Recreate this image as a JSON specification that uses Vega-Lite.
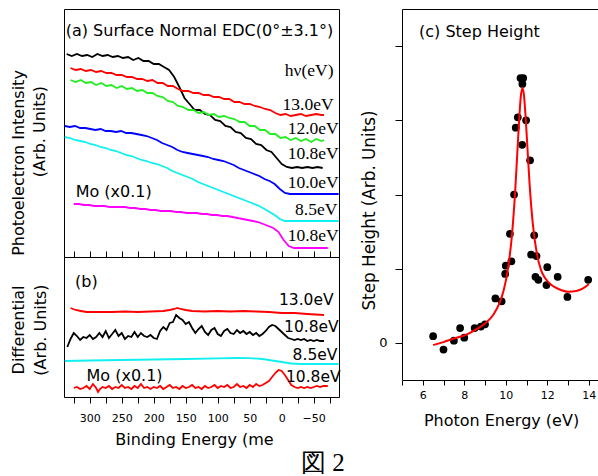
{
"$schema": "https://vega.github.io/schema/vega-lite/v6.json",
"padding": {"left": 10, "top": 8, "right": 0, "bottom": 0},
"background": "white",
"spacing": 15,
"resolve": {"scale": {"color": "independent"}},
"config": {
  "view": {"stroke": "black", "strokeWidth": 1},
  "axis": {"labelFont": "DejaVu Sans", "titleFont": "DejaVu Sans", "titleFontWeight": "normal", "labelColor": "black", "titleColor": "black", "tickColor": "black", "domainColor": "black", "grid": false},
  "text": {"font": "DejaVu Sans", "color": "black"}
},
"datasets": {
  "a": [
    {"s":"k","E":336,"v":203},{"s":"k","E":328,"v":201},{"s":"k","E":320,"v":203},{"s":"k","E":312,"v":201},{"s":"k","E":304,"v":202},{"s":"k","E":296,"v":200},{"s":"k","E":288,"v":203},{"s":"k","E":280,"v":201},{"s":"k","E":272,"v":202},{"s":"k","E":264,"v":200},{"s":"k","E":256,"v":201},{"s":"k","E":248,"v":199},{"s":"k","E":240,"v":200},{"s":"k","E":232,"v":197},{"s":"k","E":224,"v":199},{"s":"k","E":216,"v":196},{"s":"k","E":208,"v":196},{"s":"k","E":200,"v":193},{"s":"k","E":192,"v":193},{"s":"k","E":184,"v":190},{"s":"k","E":176,"v":187},{"s":"k","E":168,"v":180},{"s":"k","E":160,"v":170},{"s":"k","E":152,"v":159},{"s":"k","E":144,"v":153},{"s":"k","E":136,"v":147},{"s":"k","E":128,"v":147},{"s":"k","E":120,"v":143},{"s":"k","E":112,"v":142},{"s":"k","E":104,"v":137},{"s":"k","E":96,"v":136},{"s":"k","E":88,"v":131},{"s":"k","E":80,"v":130},{"s":"k","E":72,"v":125},{"s":"k","E":64,"v":124},{"s":"k","E":56,"v":119},{"s":"k","E":48,"v":118},{"s":"k","E":40,"v":113},{"s":"k","E":32,"v":112},{"s":"k","E":24,"v":107},{"s":"k","E":16,"v":105},{"s":"k","E":8,"v":99},{"s":"k","E":0,"v":93},{"s":"k","E":-8,"v":90},{"s":"k","E":-16,"v":89},{"s":"k","E":-24,"v":90},{"s":"k","E":-32,"v":89},{"s":"k","E":-40,"v":90},{"s":"k","E":-48,"v":89},{"s":"k","E":-56,"v":90},{"s":"k","E":-64,"v":89},
    {"s":"r","E":330,"v":189},{"s":"r","E":322,"v":187},{"s":"r","E":314,"v":188},{"s":"r","E":306,"v":186},{"s":"r","E":298,"v":187},{"s":"r","E":290,"v":185},{"s":"r","E":282,"v":186},{"s":"r","E":274,"v":184},{"s":"r","E":266,"v":184},{"s":"r","E":258,"v":182},{"s":"r","E":250,"v":182},{"s":"r","E":242,"v":180},{"s":"r","E":234,"v":180},{"s":"r","E":226,"v":178},{"s":"r","E":218,"v":178},{"s":"r","E":210,"v":176},{"s":"r","E":202,"v":177},{"s":"r","E":194,"v":174},{"s":"r","E":186,"v":174},{"s":"r","E":178,"v":171},{"s":"r","E":170,"v":171},{"s":"r","E":162,"v":168},{"s":"r","E":154,"v":166},{"s":"r","E":146,"v":166},{"s":"r","E":138,"v":164},{"s":"r","E":130,"v":164},{"s":"r","E":122,"v":162},{"s":"r","E":114,"v":162},{"s":"r","E":106,"v":160},{"s":"r","E":98,"v":160},{"s":"r","E":90,"v":158},{"s":"r","E":82,"v":158},{"s":"r","E":74,"v":155},{"s":"r","E":66,"v":155},{"s":"r","E":58,"v":153},{"s":"r","E":50,"v":153},{"s":"r","E":42,"v":151},{"s":"r","E":34,"v":150},{"s":"r","E":26,"v":148},{"s":"r","E":18,"v":147},{"s":"r","E":10,"v":144},{"s":"r","E":2,"v":142},{"s":"r","E":-6,"v":143},{"s":"r","E":-14,"v":141},{"s":"r","E":-22,"v":142},{"s":"r","E":-30,"v":143},{"s":"r","E":-38,"v":141},{"s":"r","E":-46,"v":142},{"s":"r","E":-54,"v":143},{"s":"r","E":-62,"v":142},{"s":"r","E":-66,"v":142},
    {"s":"g","E":330,"v":177},{"s":"g","E":322,"v":175},{"s":"g","E":314,"v":177},{"s":"g","E":306,"v":174},{"s":"g","E":298,"v":175},{"s":"g","E":290,"v":172},{"s":"g","E":282,"v":174},{"s":"g","E":274,"v":171},{"s":"g","E":266,"v":172},{"s":"g","E":258,"v":169},{"s":"g","E":250,"v":171},{"s":"g","E":242,"v":168},{"s":"g","E":234,"v":169},{"s":"g","E":226,"v":166},{"s":"g","E":218,"v":167},{"s":"g","E":210,"v":164},{"s":"g","E":202,"v":164},{"s":"g","E":194,"v":161},{"s":"g","E":186,"v":160},{"s":"g","E":178,"v":156},{"s":"g","E":170,"v":155},{"s":"g","E":162,"v":151},{"s":"g","E":154,"v":150},{"s":"g","E":146,"v":147},{"s":"g","E":138,"v":147},{"s":"g","E":130,"v":144},{"s":"g","E":122,"v":145},{"s":"g","E":114,"v":142},{"s":"g","E":106,"v":143},{"s":"g","E":98,"v":140},{"s":"g","E":90,"v":141},{"s":"g","E":82,"v":139},{"s":"g","E":74,"v":138},{"s":"g","E":66,"v":135},{"s":"g","E":58,"v":135},{"s":"g","E":50,"v":131},{"s":"g","E":42,"v":131},{"s":"g","E":34,"v":127},{"s":"g","E":26,"v":127},{"s":"g","E":18,"v":123},{"s":"g","E":10,"v":123},{"s":"g","E":2,"v":119},{"s":"g","E":-6,"v":120},{"s":"g","E":-14,"v":117},{"s":"g","E":-22,"v":119},{"s":"g","E":-30,"v":116},{"s":"g","E":-38,"v":118},{"s":"g","E":-46,"v":115},{"s":"g","E":-54,"v":118},{"s":"g","E":-62,"v":116},{"s":"g","E":-66,"v":117},
    {"s":"b","E":339,"v":131},{"s":"b","E":331,"v":130},{"s":"b","E":323,"v":131},{"s":"b","E":315,"v":129},{"s":"b","E":307,"v":129},{"s":"b","E":299,"v":128},{"s":"b","E":291,"v":127},{"s":"b","E":283,"v":128},{"s":"b","E":275,"v":126},{"s":"b","E":267,"v":126},{"s":"b","E":259,"v":125},{"s":"b","E":251,"v":126},{"s":"b","E":243,"v":124},{"s":"b","E":235,"v":124},{"s":"b","E":227,"v":123},{"s":"b","E":219,"v":122},{"s":"b","E":211,"v":121},{"s":"b","E":203,"v":119},{"s":"b","E":195,"v":117},{"s":"b","E":187,"v":114},{"s":"b","E":179,"v":112},{"s":"b","E":171,"v":110},{"s":"b","E":163,"v":107},{"s":"b","E":155,"v":105},{"s":"b","E":147,"v":104},{"s":"b","E":139,"v":103},{"s":"b","E":131,"v":102},{"s":"b","E":123,"v":101},{"s":"b","E":115,"v":100},{"s":"b","E":107,"v":98},{"s":"b","E":99,"v":97},{"s":"b","E":91,"v":96},{"s":"b","E":83,"v":94},{"s":"b","E":75,"v":92},{"s":"b","E":67,"v":89},{"s":"b","E":59,"v":87},{"s":"b","E":51,"v":85},{"s":"b","E":43,"v":83},{"s":"b","E":35,"v":81},{"s":"b","E":27,"v":78},{"s":"b","E":19,"v":76},{"s":"b","E":11,"v":73},{"s":"b","E":3,"v":68},{"s":"b","E":-5,"v":64},{"s":"b","E":-13,"v":63},{"s":"b","E":-29,"v":63},{"s":"b","E":-45,"v":63},{"s":"b","E":-61,"v":63},{"s":"b","E":-77,"v":63},{"s":"b","E":-89,"v":63},
    {"s":"c","E":339,"v":120},{"s":"c","E":331,"v":119},{"s":"c","E":323,"v":117},{"s":"c","E":315,"v":116},{"s":"c","E":307,"v":115},{"s":"c","E":299,"v":113},{"s":"c","E":291,"v":112},{"s":"c","E":283,"v":110},{"s":"c","E":275,"v":109},{"s":"c","E":267,"v":107},{"s":"c","E":259,"v":106},{"s":"c","E":251,"v":104},{"s":"c","E":243,"v":102},{"s":"c","E":235,"v":101},{"s":"c","E":227,"v":99},{"s":"c","E":219,"v":97},{"s":"c","E":211,"v":96},{"s":"c","E":203,"v":94},{"s":"c","E":195,"v":93},{"s":"c","E":187,"v":91},{"s":"c","E":179,"v":89},{"s":"c","E":171,"v":86},{"s":"c","E":163,"v":84},{"s":"c","E":155,"v":82},{"s":"c","E":147,"v":80},{"s":"c","E":139,"v":78},{"s":"c","E":131,"v":75},{"s":"c","E":123,"v":73},{"s":"c","E":115,"v":71},{"s":"c","E":107,"v":69},{"s":"c","E":99,"v":67},{"s":"c","E":91,"v":65},{"s":"c","E":83,"v":63},{"s":"c","E":75,"v":61},{"s":"c","E":67,"v":59},{"s":"c","E":59,"v":57},{"s":"c","E":51,"v":55},{"s":"c","E":43,"v":53},{"s":"c","E":35,"v":51},{"s":"c","E":27,"v":48},{"s":"c","E":19,"v":45},{"s":"c","E":11,"v":42},{"s":"c","E":3,"v":38},{"s":"c","E":-5,"v":36},{"s":"c","E":-13,"v":36},{"s":"c","E":-40,"v":36},{"s":"c","E":-70,"v":36},{"s":"c","E":-89,"v":36},
    {"s":"m","E":325,"v":53},{"s":"m","E":317,"v":53},{"s":"m","E":309,"v":52},{"s":"m","E":301,"v":52},{"s":"m","E":293,"v":51},{"s":"m","E":285,"v":51},{"s":"m","E":277,"v":51},{"s":"m","E":269,"v":50},{"s":"m","E":261,"v":50},{"s":"m","E":253,"v":50},{"s":"m","E":245,"v":50},{"s":"m","E":237,"v":49},{"s":"m","E":229,"v":49},{"s":"m","E":221,"v":48},{"s":"m","E":213,"v":48},{"s":"m","E":205,"v":47},{"s":"m","E":197,"v":47},{"s":"m","E":189,"v":46},{"s":"m","E":181,"v":46},{"s":"m","E":173,"v":46},{"s":"m","E":165,"v":45},{"s":"m","E":157,"v":45},{"s":"m","E":149,"v":44},{"s":"m","E":141,"v":44},{"s":"m","E":133,"v":44},{"s":"m","E":125,"v":43},{"s":"m","E":117,"v":43},{"s":"m","E":109,"v":42},{"s":"m","E":101,"v":42},{"s":"m","E":93,"v":41},{"s":"m","E":85,"v":41},{"s":"m","E":77,"v":40},{"s":"m","E":69,"v":39},{"s":"m","E":61,"v":38},{"s":"m","E":53,"v":37},{"s":"m","E":45,"v":36},{"s":"m","E":37,"v":35},{"s":"m","E":29,"v":33},{"s":"m","E":21,"v":31},{"s":"m","E":13,"v":29},{"s":"m","E":5,"v":25},{"s":"m","E":-3,"v":17},{"s":"m","E":-11,"v":11},{"s":"m","E":-19,"v":9},{"s":"m","E":-35,"v":9},{"s":"m","E":-55,"v":9},{"s":"m","E":-72,"v":9}
  ],
  "b": [
    {"s":"r","E":330,"v":89},{"s":"r","E":322,"v":87},{"s":"r","E":314,"v":86},{"s":"r","E":305,"v":85},{"s":"r","E":285,"v":85},{"s":"r","E":265,"v":85},{"s":"r","E":245,"v":85.5},{"s":"r","E":225,"v":85},{"s":"r","E":205,"v":85.5},{"s":"r","E":185,"v":86},{"s":"r","E":175,"v":87},{"s":"r","E":168,"v":88},{"s":"r","E":163,"v":89},{"s":"r","E":158,"v":88},{"s":"r","E":150,"v":87},{"s":"r","E":140,"v":86},{"s":"r","E":120,"v":85.5},{"s":"r","E":100,"v":86},{"s":"r","E":80,"v":85.5},{"s":"r","E":60,"v":86},{"s":"r","E":40,"v":85.5},{"s":"r","E":20,"v":85},{"s":"r","E":0,"v":84},{"s":"r","E":-20,"v":84},{"s":"r","E":-40,"v":83},{"s":"r","E":-66,"v":82},
    {"s":"k","E":335,"v":50},{"s":"k","E":330,"v":58},{"s":"k","E":325,"v":64},{"s":"k","E":320,"v":61},{"s":"k","E":315,"v":57},{"s":"k","E":310,"v":60},{"s":"k","E":305,"v":59},{"s":"k","E":300,"v":62},{"s":"k","E":295,"v":58},{"s":"k","E":290,"v":60},{"s":"k","E":285,"v":64},{"s":"k","E":280,"v":60},{"s":"k","E":275,"v":66},{"s":"k","E":270,"v":59},{"s":"k","E":265,"v":63},{"s":"k","E":260,"v":67},{"s":"k","E":255,"v":61},{"s":"k","E":250,"v":64},{"s":"k","E":245,"v":58},{"s":"k","E":240,"v":61},{"s":"k","E":235,"v":60},{"s":"k","E":230,"v":65},{"s":"k","E":225,"v":60},{"s":"k","E":220,"v":64},{"s":"k","E":215,"v":61},{"s":"k","E":210,"v":60},{"s":"k","E":205,"v":62},{"s":"k","E":200,"v":59},{"s":"k","E":195,"v":58},{"s":"k","E":190,"v":66},{"s":"k","E":185,"v":70},{"s":"k","E":180,"v":67},{"s":"k","E":175,"v":74},{"s":"k","E":170,"v":75},{"s":"k","E":165,"v":82},{"s":"k","E":160,"v":79},{"s":"k","E":155,"v":77},{"s":"k","E":150,"v":73},{"s":"k","E":145,"v":75},{"s":"k","E":140,"v":69},{"s":"k","E":135,"v":64},{"s":"k","E":130,"v":68},{"s":"k","E":125,"v":71},{"s":"k","E":120,"v":65},{"s":"k","E":115,"v":62},{"s":"k","E":110,"v":67},{"s":"k","E":105,"v":69},{"s":"k","E":100,"v":63},{"s":"k","E":95,"v":61},{"s":"k","E":90,"v":66},{"s":"k","E":85,"v":68},{"s":"k","E":80,"v":64},{"s":"k","E":75,"v":63},{"s":"k","E":70,"v":67},{"s":"k","E":65,"v":64},{"s":"k","E":60,"v":66},{"s":"k","E":55,"v":63},{"s":"k","E":50,"v":65},{"s":"k","E":45,"v":62},{"s":"k","E":40,"v":64},{"s":"k","E":35,"v":61},{"s":"k","E":30,"v":63},{"s":"k","E":25,"v":66},{"s":"k","E":20,"v":70},{"s":"k","E":15,"v":72},{"s":"k","E":10,"v":71},{"s":"k","E":5,"v":68},{"s":"k","E":0,"v":65},{"s":"k","E":-5,"v":62},{"s":"k","E":-10,"v":59},{"s":"k","E":-15,"v":58},{"s":"k","E":-20,"v":57},{"s":"k","E":-25,"v":58},{"s":"k","E":-30,"v":57},{"s":"k","E":-35,"v":58},{"s":"k","E":-40,"v":56},{"s":"k","E":-45,"v":57},{"s":"k","E":-50,"v":56},{"s":"k","E":-55,"v":57},{"s":"k","E":-60,"v":56},{"s":"k","E":-66,"v":56},
    {"s":"c","E":339,"v":36},{"s":"c","E":300,"v":36.5},{"s":"c","E":250,"v":37},{"s":"c","E":200,"v":37.5},{"s":"c","E":150,"v":38},{"s":"c","E":100,"v":38.7},{"s":"c","E":70,"v":39},{"s":"c","E":50,"v":38.8},{"s":"c","E":30,"v":38},{"s":"c","E":15,"v":36.5},{"s":"c","E":0,"v":35},{"s":"c","E":-15,"v":33.5},{"s":"c","E":-30,"v":33},{"s":"c","E":-89,"v":33},
    {"s":"m","E":325,"v":9},{"s":"m","E":320,"v":10},{"s":"m","E":315,"v":8},{"s":"m","E":310,"v":9},{"s":"m","E":305,"v":11},{"s":"m","E":300,"v":8},{"s":"m","E":295,"v":13},{"s":"m","E":290,"v":9},{"s":"m","E":287,"v":5},{"s":"m","E":284,"v":8},{"s":"m","E":280,"v":10},{"s":"m","E":275,"v":9},{"s":"m","E":270,"v":11},{"s":"m","E":265,"v":8},{"s":"m","E":260,"v":10},{"s":"m","E":255,"v":9},{"s":"m","E":250,"v":12},{"s":"m","E":245,"v":9},{"s":"m","E":240,"v":10},{"s":"m","E":235,"v":8},{"s":"m","E":230,"v":11},{"s":"m","E":225,"v":9},{"s":"m","E":220,"v":13},{"s":"m","E":215,"v":9},{"s":"m","E":210,"v":10},{"s":"m","E":205,"v":8},{"s":"m","E":200,"v":10},{"s":"m","E":195,"v":9},{"s":"m","E":190,"v":11},{"s":"m","E":185,"v":8},{"s":"m","E":180,"v":10},{"s":"m","E":175,"v":12},{"s":"m","E":170,"v":9},{"s":"m","E":165,"v":10},{"s":"m","E":160,"v":8},{"s":"m","E":155,"v":11},{"s":"m","E":150,"v":9},{"s":"m","E":145,"v":10},{"s":"m","E":140,"v":12},{"s":"m","E":135,"v":9},{"s":"m","E":130,"v":10},{"s":"m","E":125,"v":8},{"s":"m","E":120,"v":11},{"s":"m","E":115,"v":9},{"s":"m","E":110,"v":10},{"s":"m","E":105,"v":12},{"s":"m","E":100,"v":9},{"s":"m","E":95,"v":11},{"s":"m","E":90,"v":10},{"s":"m","E":85,"v":12},{"s":"m","E":80,"v":9},{"s":"m","E":75,"v":10},{"s":"m","E":70,"v":13},{"s":"m","E":65,"v":10},{"s":"m","E":60,"v":11},{"s":"m","E":55,"v":9},{"s":"m","E":50,"v":12},{"s":"m","E":45,"v":10},{"s":"m","E":40,"v":13},{"s":"m","E":35,"v":11},{"s":"m","E":30,"v":12},{"s":"m","E":25,"v":14},{"s":"m","E":20,"v":16},{"s":"m","E":15,"v":20},{"s":"m","E":10,"v":24},{"s":"m","E":5,"v":27},{"s":"m","E":0,"v":26},{"s":"m","E":-5,"v":22},{"s":"m","E":-10,"v":17},{"s":"m","E":-15,"v":12},{"s":"m","E":-20,"v":10},{"s":"m","E":-25,"v":9},{"s":"m","E":-30,"v":10},{"s":"m","E":-35,"v":9},{"s":"m","E":-40,"v":10},{"s":"m","E":-45,"v":9},{"s":"m","E":-50,"v":10},{"s":"m","E":-55,"v":11},{"s":"m","E":-60,"v":10},{"s":"m","E":-65,"v":11},{"s":"m","E":-72,"v":11}
  ],
  "pts": [
    {"hv":6.5,"h":0.09},{"hv":7.0,"h":-0.09},{"hv":7.5,"h":0.03},{"hv":7.8,"h":0.2},{"hv":8.0,"h":0.07},{"hv":8.5,"h":0.2},{"hv":8.8,"h":0.22},{"hv":9.0,"h":0.25},{"hv":9.5,"h":0.6},{"hv":9.8,"h":0.56},{"hv":9.97,"h":0.93},{"hv":10.0,"h":1.04},{"hv":10.2,"h":1.47},{"hv":10.27,"h":1.1},{"hv":10.4,"h":2.0},{"hv":10.48,"h":2.9},{"hv":10.58,"h":3.04},{"hv":10.71,"h":3.57},{"hv":10.84,"h":3.57},{"hv":10.8,"h":3.49},{"hv":10.79,"h":2.67},{"hv":10.98,"h":3.0},{"hv":11.17,"h":2.46},{"hv":11.37,"h":1.45},{"hv":11.22,"h":1.19},{"hv":11.48,"h":1.17},{"hv":11.43,"h":0.89},{"hv":11.57,"h":0.85},{"hv":12.0,"h":1.02},{"hv":11.96,"h":0.78},{"hv":12.5,"h":0.89},{"hv":12.97,"h":0.62},{"hv":13.97,"h":0.85}
  ],
  "fit": [
    {"hv":6.5,"h":-0.03},{"hv":7.0,"h":0.01},{"hv":7.5,"h":0.06},{"hv":8.0,"h":0.10},{"hv":8.5,"h":0.17},{"hv":9.0,"h":0.26},{"hv":9.4,"h":0.38},{"hv":9.7,"h":0.54},{"hv":9.9,"h":0.71},{"hv":10.1,"h":0.99},{"hv":10.3,"h":1.46},{"hv":10.45,"h":2.03},{"hv":10.55,"h":2.53},{"hv":10.65,"h":3.03},{"hv":10.72,"h":3.31},{"hv":10.8,"h":3.44},{"hv":10.88,"h":3.33},{"hv":10.95,"h":3.07},{"hv":11.05,"h":2.6},{"hv":11.15,"h":2.13},{"hv":11.3,"h":1.61},{"hv":11.5,"h":1.2},{"hv":11.7,"h":0.98},{"hv":11.9,"h":0.87},{"hv":12.2,"h":0.78},{"hv":12.6,"h":0.72},{"hv":13.0,"h":0.69},{"hv":13.4,"h":0.7},{"hv":13.7,"h":0.73},{"hv":14.0,"h":0.79}
  ],
  "ta_serif": [
    {"t":"hν(eV)","E":-81,"v":181},{"t":"13.0eV","E":-81,"v":147},{"t":"12.0eV","E":-89,"v":123},{"t":"10.8eV","E":-89,"v":98},{"t":"10.0eV","E":-89,"v":69},{"t":"8.5eV","E":-87,"v":42},{"t":"10.8eV","E":-89,"v":16}
  ],
  "ta_sans": [
    {"t":"(a) Surface Normal EDC(0°±3.1°)","E":337.5,"v":221},{"t":"Mo (x0.1)","E":322,"v":60}
  ],
  "ta_rot": [
    {"t":"Photoelectron Intensity","E":410.2,"v":94},{"t":"(Arb. Units)","E":377.4,"v":125.5}
  ],
  "tb_right": [
    {"t":"13.0eV","E":-81,"v":92},{"t":"10.8eV","E":-89,"v":65},{"t":"8.5eV","E":-87,"v":37},{"t":"10.8eV","E":-92,"v":15}
  ],
  "tb_left": [
    {"t":"(b)","E":323,"v":110},{"t":"Mo (x0.1)","E":305,"v":16}
  ],
  "tb_rot": [
    {"t":"Differential","E":410.2,"v":67},{"t":"(Arb. Units)","E":376,"v":67}
  ],
  "fig": [
    {"t":"図 2","E":-30,"v":-74}
  ],
  "tc": [
    {"t":"(c) Step Height","hv":5.82,"h":4.12}
  ]
},
"hconcat": [
  {
    "vconcat": [
      {
        "width": 275, "height": 248,
        "layer": [
          {
            "data": {"name": "a"},
            "mark": {"type": "line", "strokeWidth": 1.8},
            "encoding": {
              "x": {"field": "E", "type": "quantitative", "scale": {"domain": [-89.5, 340.2], "reverse": true, "nice": false, "zero": false}, "axis": null},
              "y": {"field": "v", "type": "quantitative", "scale": {"domain": [0, 248], "nice": false, "zero": false}, "axis": null},
              "color": {"field": "s", "type": "nominal", "scale": {"domain": ["g", "r", "k", "b", "c", "m"], "range": ["#22ee22", "#ff0000", "#000000", "#0000ff", "#10f0f0", "#ff00ff"]}, "legend": null}
            }
          },
          {
            "data": {"name": "ta_serif"},
            "mark": {"type": "text", "font": "Liberation Serif", "fontSize": 17.5, "align": "right", "baseline": "alphabetic"},
            "encoding": {
              "x": {"field": "E", "type": "quantitative", "axis": null},
              "y": {"field": "v", "type": "quantitative", "axis": null},
              "text": {"field": "t"}
            }
          },
          {
            "data": {"name": "ta_sans"},
            "mark": {"type": "text", "fontSize": 16, "align": "left", "baseline": "alphabetic"},
            "encoding": {
              "x": {"field": "E", "type": "quantitative", "axis": null},
              "y": {"field": "v", "type": "quantitative", "axis": null},
              "text": {"field": "t"}
            }
          },
          {
            "data": {"name": "ta_rot"},
            "mark": {"type": "text", "fontSize": 16, "align": "center", "baseline": "middle", "angle": 270},
            "encoding": {
              "x": {"field": "E", "type": "quantitative", "axis": null},
              "y": {"field": "v", "type": "quantitative", "axis": null},
              "text": {"field": "t"}
            }
          }
        ]
      },
      {
        "width": 275, "height": 140,
        "resolve": {"axis": {"x": "independent"}},
        "layer": [
          {
            "data": {"name": "b"},
            "mark": {"type": "line", "strokeWidth": 1.8},
            "encoding": {
              "x": {"field": "E", "type": "quantitative", "scale": {"domain": [-89.5, 340.2], "reverse": true, "nice": false, "zero": false},
                    "axis": {"orient": "bottom", "values": [325, 300, 275, 250, 225, 200, 175, 150, 125, 100, 75, 50, 25, 0, -25, -50, -75], "labelExpr": "datum.value % 50 === 0 ? datum.label : ''", "tickSize": 6, "labelFontSize": 11, "labelPadding": 9, "labelFlush": false, "labelOverlap": false, "domain": false, "title": "Binding Energy (me", "titleFontSize": 16, "titlePadding": 8, "titleX": 130}},
              "y": {"field": "v", "type": "quantitative", "scale": {"domain": [0, 140], "nice": false, "zero": false}, "axis": null},
              "color": {"field": "s", "type": "nominal", "scale": {"domain": ["r", "k", "c", "m"], "range": ["#ff0000", "#000000", "#10f0f0", "#ff0000"]}, "legend": null}
            }
          },
          {
            "data": {"name": "tb_right"},
            "mark": {"type": "text", "fontSize": 15.5, "align": "right", "baseline": "alphabetic"},
            "encoding": {
              "x": {"field": "E", "type": "quantitative", "axis": {"orient": "top", "values": [325, 300, 275, 250, 225, 200, 175, 150, 125, 100, 75, 50, 25, 0, -25, -50, -75], "labels": false, "tickSize": 6, "domain": false, "title": null}},
              "y": {"field": "v", "type": "quantitative", "axis": null},
              "text": {"field": "t"}
            }
          },
          {
            "data": {"name": "tb_left"},
            "mark": {"type": "text", "fontSize": 16, "align": "left", "baseline": "alphabetic"},
            "encoding": {
              "x": {"field": "E", "type": "quantitative", "axis": null},
              "y": {"field": "v", "type": "quantitative", "axis": null},
              "text": {"field": "t"}
            }
          },
          {
            "data": {"name": "tb_rot"},
            "mark": {"type": "text", "fontSize": 16, "align": "center", "baseline": "middle", "angle": 270},
            "encoding": {
              "x": {"field": "E", "type": "quantitative", "axis": null},
              "y": {"field": "v", "type": "quantitative", "axis": null},
              "text": {"field": "t"}
            }
          },
          {
            "data": {"name": "fig"},
            "mark": {"type": "text", "font": "Liberation Serif", "fontSize": 25, "align": "left", "baseline": "alphabetic"},
            "encoding": {
              "x": {"field": "E", "type": "quantitative", "axis": null},
              "y": {"field": "v", "type": "quantitative", "axis": null},
              "text": {"field": "t"}
            }
          }
        ]
      }
    ],
    "spacing": 0,
    "bounds": "flush",
    "resolve": {"scale": {"color": "independent"}}
  },
  {
    "width": 198, "height": 371,
    "resolve": {"axis": {"x": "independent", "y": "independent"}},
    "layer": [
      {
        "data": {"name": "pts"},
        "mark": {"type": "circle", "size": 60, "color": "black", "opacity": 1},
        "encoding": {
          "x": {"field": "hv", "type": "quantitative", "scale": {"domain": [5, 14.54], "nice": false, "zero": false},
                "axis": {"orient": "bottom", "values": [5, 6, 7, 8, 9, 10, 11, 12, 13, 14], "format": "d", "labelExpr": "datum.value % 2 === 0 ? datum.label : ''", "tickSize": 5, "labelFontSize": 11, "labelPadding": 4, "labelFlush": false, "labelOverlap": false, "domain": false, "title": "Photon Energy (eV)", "titleFontSize": 16, "titlePadding": 12}},
          "y": {"field": "h", "type": "quantitative", "scale": {"domain": [-0.5, 4.5], "nice": false, "zero": false},
                "axis": {"orient": "left", "values": [0, 1, 2, 3, 4], "format": "d", "labelExpr": "datum.value === 0 ? datum.label : ''", "tickSize": 7, "labelFontSize": 13, "labelPadding": 8, "domain": false, "title": "Step Height (Arb. Units)", "titleFontSize": 16.8, "titlePadding": 0, "titleY": 201}}
        }
      },
      {
        "data": {"name": "fit"},
        "mark": {"type": "line", "color": "#ff0000", "strokeWidth": 2, "interpolate": "monotone"},
        "encoding": {
          "x": {"field": "hv", "type": "quantitative", "axis": null},
          "y": {"field": "h", "type": "quantitative", "axis": null}
        }
      },
      {
        "data": {"name": "tc"},
        "mark": {"type": "text", "fontSize": 16, "align": "left", "baseline": "alphabetic"},
        "encoding": {
          "x": {"field": "hv", "type": "quantitative", "axis": null},
          "y": {"field": "h", "type": "quantitative", "axis": null},
          "text": {"field": "t"}
        }
      }
    ]
  }
]
}
